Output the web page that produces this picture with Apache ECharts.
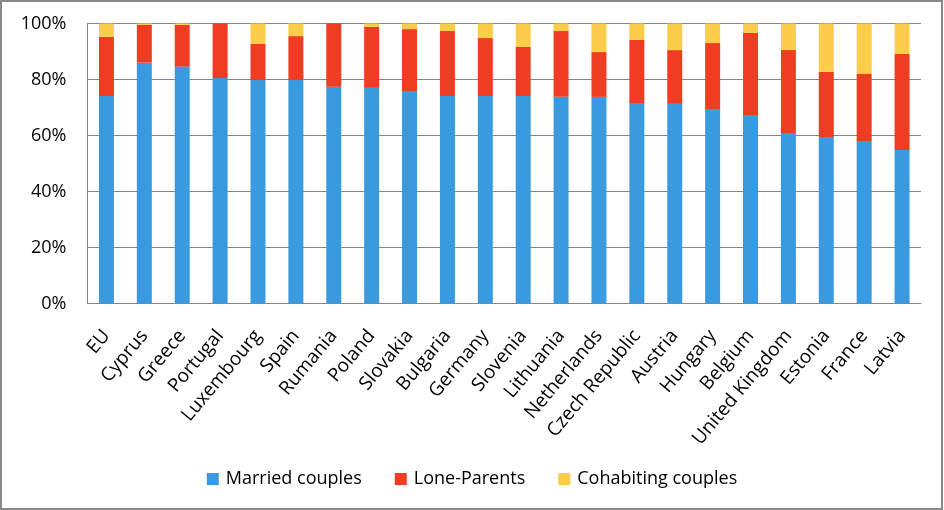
<!DOCTYPE html>
<html><head><meta charset="utf-8">
<script src="https://cdn.jsdelivr.net/npm/echarts@6/dist/echarts.min.js"></script>
<style>
html,body{margin:0;padding:0;background:#fff;}
#wrap{position:relative;width:944px;height:510px;}
#chart{position:absolute;left:0;top:0;width:944px;height:510px;}
#frame{position:absolute;left:0;top:0;width:939px;height:506px;border:2px solid #898989;pointer-events:none;}
</style></head>
<body>
<div id="wrap"><div id="chart"></div><div id="frame"></div></div>
<script>
const categories = ['EU','Cyprus','Greece','Portugal','Luxembourg','Spain','Rumania','Poland','Slovakia','Bulgaria','Germany','Slovenia','Lithuania','Netherlands','Czech Republic','Austria','Hungary','Belgium','United Kingdom','Estonia','France','Latvia'];
const married = [74.1,86.0,84.6,80.5,79.8,79.8,77.4,77.0,75.9,74.1,74.1,74.1,73.8,73.8,71.6,71.3,69.5,67.3,60.9,59.5,58.0,54.8];
const loneParents = [21.1,13.5,14.9,19.5,12.9,15.7,22.6,21.8,22.1,23.2,20.7,17.5,23.5,16.0,22.5,19.2,23.5,29.3,29.6,23.2,24.0,34.3];
const cohabiting = [4.8,0.5,0.5,0.0,7.3,4.5,0.0,1.2,2.0,2.7,5.2,8.4,2.7,10.2,5.9,9.5,7.0,3.4,9.5,17.3,18.0,10.9];
const yTicks = [0,20,40,60,80,100];

const font = 'Open Sans';
const chart = echarts.init(document.getElementById('chart'));
const mk = (name, data, color) => ({
  name, type:'bar', stack:'total', data, barWidth:15,
  itemStyle:{color}, emphasis:{disabled:true}
});
chart.setOption({
  animation:false,
  textStyle:{fontFamily:font},
  grid:{left:87.5, top:23.5, right:23, bottom:206.5, containLabel:false},
  legend:{
    bottom:17, left:'center', itemWidth:12, itemHeight:12, itemGap:33,
    icon:'rect',
    textStyle:{fontFamily:font, fontSize:18, color:'#000', padding:[0,0,0,2]},
    data:['Married couples','Lone-Parents','Cohabiting couples']
  },
  xAxis:{
    type:'category', data:categories,
    axisLine:{lineStyle:{color:'#868686', width:1}},
    axisTick:{show:false},
    axisLabel:{rotate:50, interval:0, margin:29, fontFamily:font, fontSize:19, color:'#000'}
  },
  yAxis:{
    type:'value', min:yTicks[0], max:yTicks[yTicks.length-1], interval:20,
    axisLine:{show:true, lineStyle:{color:'#868686', width:1}},
    axisTick:{show:false},
    splitLine:{lineStyle:{color:'#868686', width:1}},
    axisLabel:{formatter:'{value}%', margin:21, fontFamily:font, fontSize:18, color:'#000'}
  },
  series:[
    mk('Married couples', married, '#3A9ADF'),
    mk('Lone-Parents', loneParents, '#EF3D24'),
    mk('Cohabiting couples', cohabiting, '#FCCD48')
  ]
});
</script>
</body></html>
